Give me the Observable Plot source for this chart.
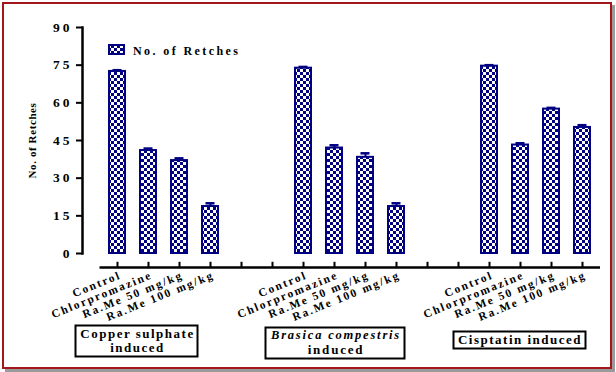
<!DOCTYPE html>
<html><head><meta charset="utf-8">
<script src="https://cdn.jsdelivr.net/npm/d3@7"></script>
<script src="https://cdn.jsdelivr.net/npm/@observablehq/plot@0.6"></script>
<style>
html,body{margin:0;padding:0;background:#fff;}
#wrap{position:relative;width:616px;height:372px;overflow:hidden;}
#border{position:absolute;left:2px;top:2px;width:606px;height:363px;border:2px solid #a3161c;box-shadow:3px 3px 0 #9a9a9a;pointer-events:none;}
svg text{font-family:"Liberation Serif","DejaVu Serif",serif;font-weight:bold;}
</style></head><body><div id="wrap"><div id="border"></div></div>
<script>
const groups = ["Copper sulphate induced", "Brasica compestris induced", "Cisptatin induced"];
const treatments = ["Control", "Chlorpromazine", "Ra.Me 50 mg/kg", "Ra.Me 100 mg/kg"];
const copperMeans = [72.5, 41.0, 37.0, 18.7];
const copperSEM = [0.5, 0.8, 0.9, 1.3];
const brasicaMeans = [73.8, 42.0, 38.3, 18.7];
const brasicaSEM = [0.5, 1.1, 1.6, 1.3];
const cisplatinMeans = [74.6, 43.2, 57.5, 50.2];
const cisplatinSEM = [0.4, 0.7, 0.5, 0.9];
const yTicks = [0, 15, 30, 45, 60, 75, 90];
const legendLabel = "No. of Retches";
const yLabel = "No. of Retches";

const means = [copperMeans, brasicaMeans, cisplatinMeans];
const sems = [copperSEM, brasicaSEM, cisplatinSEM];
const key = (g, t) => `${g}|${treatments[t]}`;
const slots = [];
const data = [];
groups.forEach((g, gi) => {
  treatments.forEach((t, ti) => {
    slots.push(key(gi, ti));
    data.push({key: key(gi, ti), label: t, mean: means[gi][ti], sem: sems[gi][ti]});
  });
  if (gi < groups.length - 1) { slots.push(`gap${gi}a`); slots.push(`gap${gi}b`); }
});

const NAVY = "#000080";
const AXIS_Y = -5.6; // x-axis line sits below the zero baseline

const chart = Plot.plot({
  width: 616, height: 372,
  marginTop: 27, marginBottom: 119, marginLeft: 82, marginRight: 16,
  x: {domain: slots, range: [99.5, 600], paddingInner: 0.47, paddingOuter: 0.235, axis: null},
  y: {domain: [0, 90], axis: null},
  marks: [
    Plot.axisY({ticks: yTicks, tickSize: 6, tickPadding: 4, fontSize: 13.5, strokeWidth: 2, label: null}),
    Plot.text([yLabel], {frameAnchor: "left", text: d => d, rotate: -90, dx: -50,
      textAnchor: "middle", lineAnchor: "middle", fontSize: 11, className: "ylab"}),
    Plot.frame({anchor: "left", strokeWidth: 2.5}),
    Plot.ruleY([AXIS_Y], {insetLeft: 17.5, strokeWidth: 2.5}),
    Plot.ruleX(slots, {x: d => d, y1: AXIS_Y, y2: AXIS_Y + 2.1, strokeWidth: 2}),
    Plot.text(data, {x: "key", y: AXIS_Y, text: "label", rotate: -22, textAnchor: "end",
      dx: 3, dy: 7, fontSize: 11.5, className: "xlab"}),
    Plot.barY(data, {x: "key", y: "mean", fill: "url(#chk)", stroke: NAVY, strokeWidth: 2}),
    Plot.ruleX(data, {x: "key", y1: "mean", y2: d => d.mean + d.sem, stroke: NAVY, strokeWidth: 2}),
    Plot.tickY(data, {x: "key", y: d => d.mean + d.sem, stroke: NAVY, strokeWidth: 2.5, insetLeft: 3.5, insetRight: 3.5}),
    Plot.text([groups[0]], {x: () => key(0, 1), frameAnchor: "bottom", text: () => "Copper sulphate\ninduced",
      lineAnchor: "middle", lineHeight: 1.1, dy: 87, dx: -11, fontSize: 13, className: "grp0"}),
    Plot.text([groups[1]], {x: () => key(1, 1), frameAnchor: "bottom", text: () => "Brasica compestris",
      lineAnchor: "middle", dy: 81, dx: 1.5, fontSize: 12.5, fontStyle: "italic", fontWeight: "normal", className: "grp1"}),
    Plot.text([groups[1]], {x: () => key(1, 1), frameAnchor: "bottom", text: () => "induced",
      lineAnchor: "middle", dy: 96, dx: 1.5, fontSize: 13, className: "grp1"}),
    Plot.text([groups[2]], {x: () => key(2, 1), frameAnchor: "bottom", text: () => groups[2],
      lineAnchor: "middle", dy: 86, dx: -0.5, fontSize: 13, className: "grp2"})
  ]
});

document.getElementById("wrap").insertBefore(chart, document.getElementById("border"));
const svg = d3.select(chart);
const defs = svg.insert("defs", ":first-child");
const pat = defs.append("pattern").attr("id", "chk").attr("patternUnits", "userSpaceOnUse")
  .attr("width", 6).attr("height", 6);
pat.append("rect").attr("width", 6).attr("height", 6).attr("fill", "#fff");
pat.append("rect").attr("width", 3).attr("height", 3).attr("fill", NAVY);
pat.append("rect").attr("x", 3).attr("y", 3).attr("width", 3).attr("height", 3).attr("fill", NAVY);

svg.selectAll('g[aria-label="y-axis tick label"] text').style("letter-spacing", "3px");
svg.selectAll(".ylab text").style("letter-spacing", "0.6px");
svg.selectAll(".xlab text").style("letter-spacing", "1.9px");
svg.selectAll(".grp0 text, .grp2 text").style("letter-spacing", "1.5px");
svg.selectAll(".grp1 text").style("letter-spacing", "1.8px");

// boxes around group labels
const sr = chart.getBoundingClientRect();
["grp0", "grp1", "grp2"].forEach(c => {
  let x0 = Infinity, y0 = Infinity, x1 = -Infinity, y1 = -Infinity;
  chart.querySelectorAll(`.${c} text`).forEach(t => {
    const r = t.getBoundingClientRect();
    x0 = Math.min(x0, r.left - sr.left); y0 = Math.min(y0, r.top - sr.top);
    x1 = Math.max(x1, r.right - sr.left); y1 = Math.max(y1, r.bottom - sr.top);
  });
  svg.append("rect").attr("x", Math.round(x0 - 5) + 0.5).attr("y", Math.round(y0 - 1) + 0.5)
    .attr("width", Math.round(x1 - x0 + 8)).attr("height", Math.round(y1 - y0 + 2))
    .attr("fill", "none").attr("stroke", "#000").attr("stroke-width", 2);
});

// legend
const lg = svg.append("g");
lg.append("rect").attr("x", 109).attr("y", 45).attr("width", 15).attr("height", 9)
  .attr("fill", "url(#chk)").attr("stroke", NAVY).attr("stroke-width", 2);
lg.append("text").attr("x", 133).attr("y", 55).attr("text-anchor", "start").text(legendLabel)
  .style("font-size", "12px").style("letter-spacing", "2.4px").attr("fill", "#000");
</script></body></html>
